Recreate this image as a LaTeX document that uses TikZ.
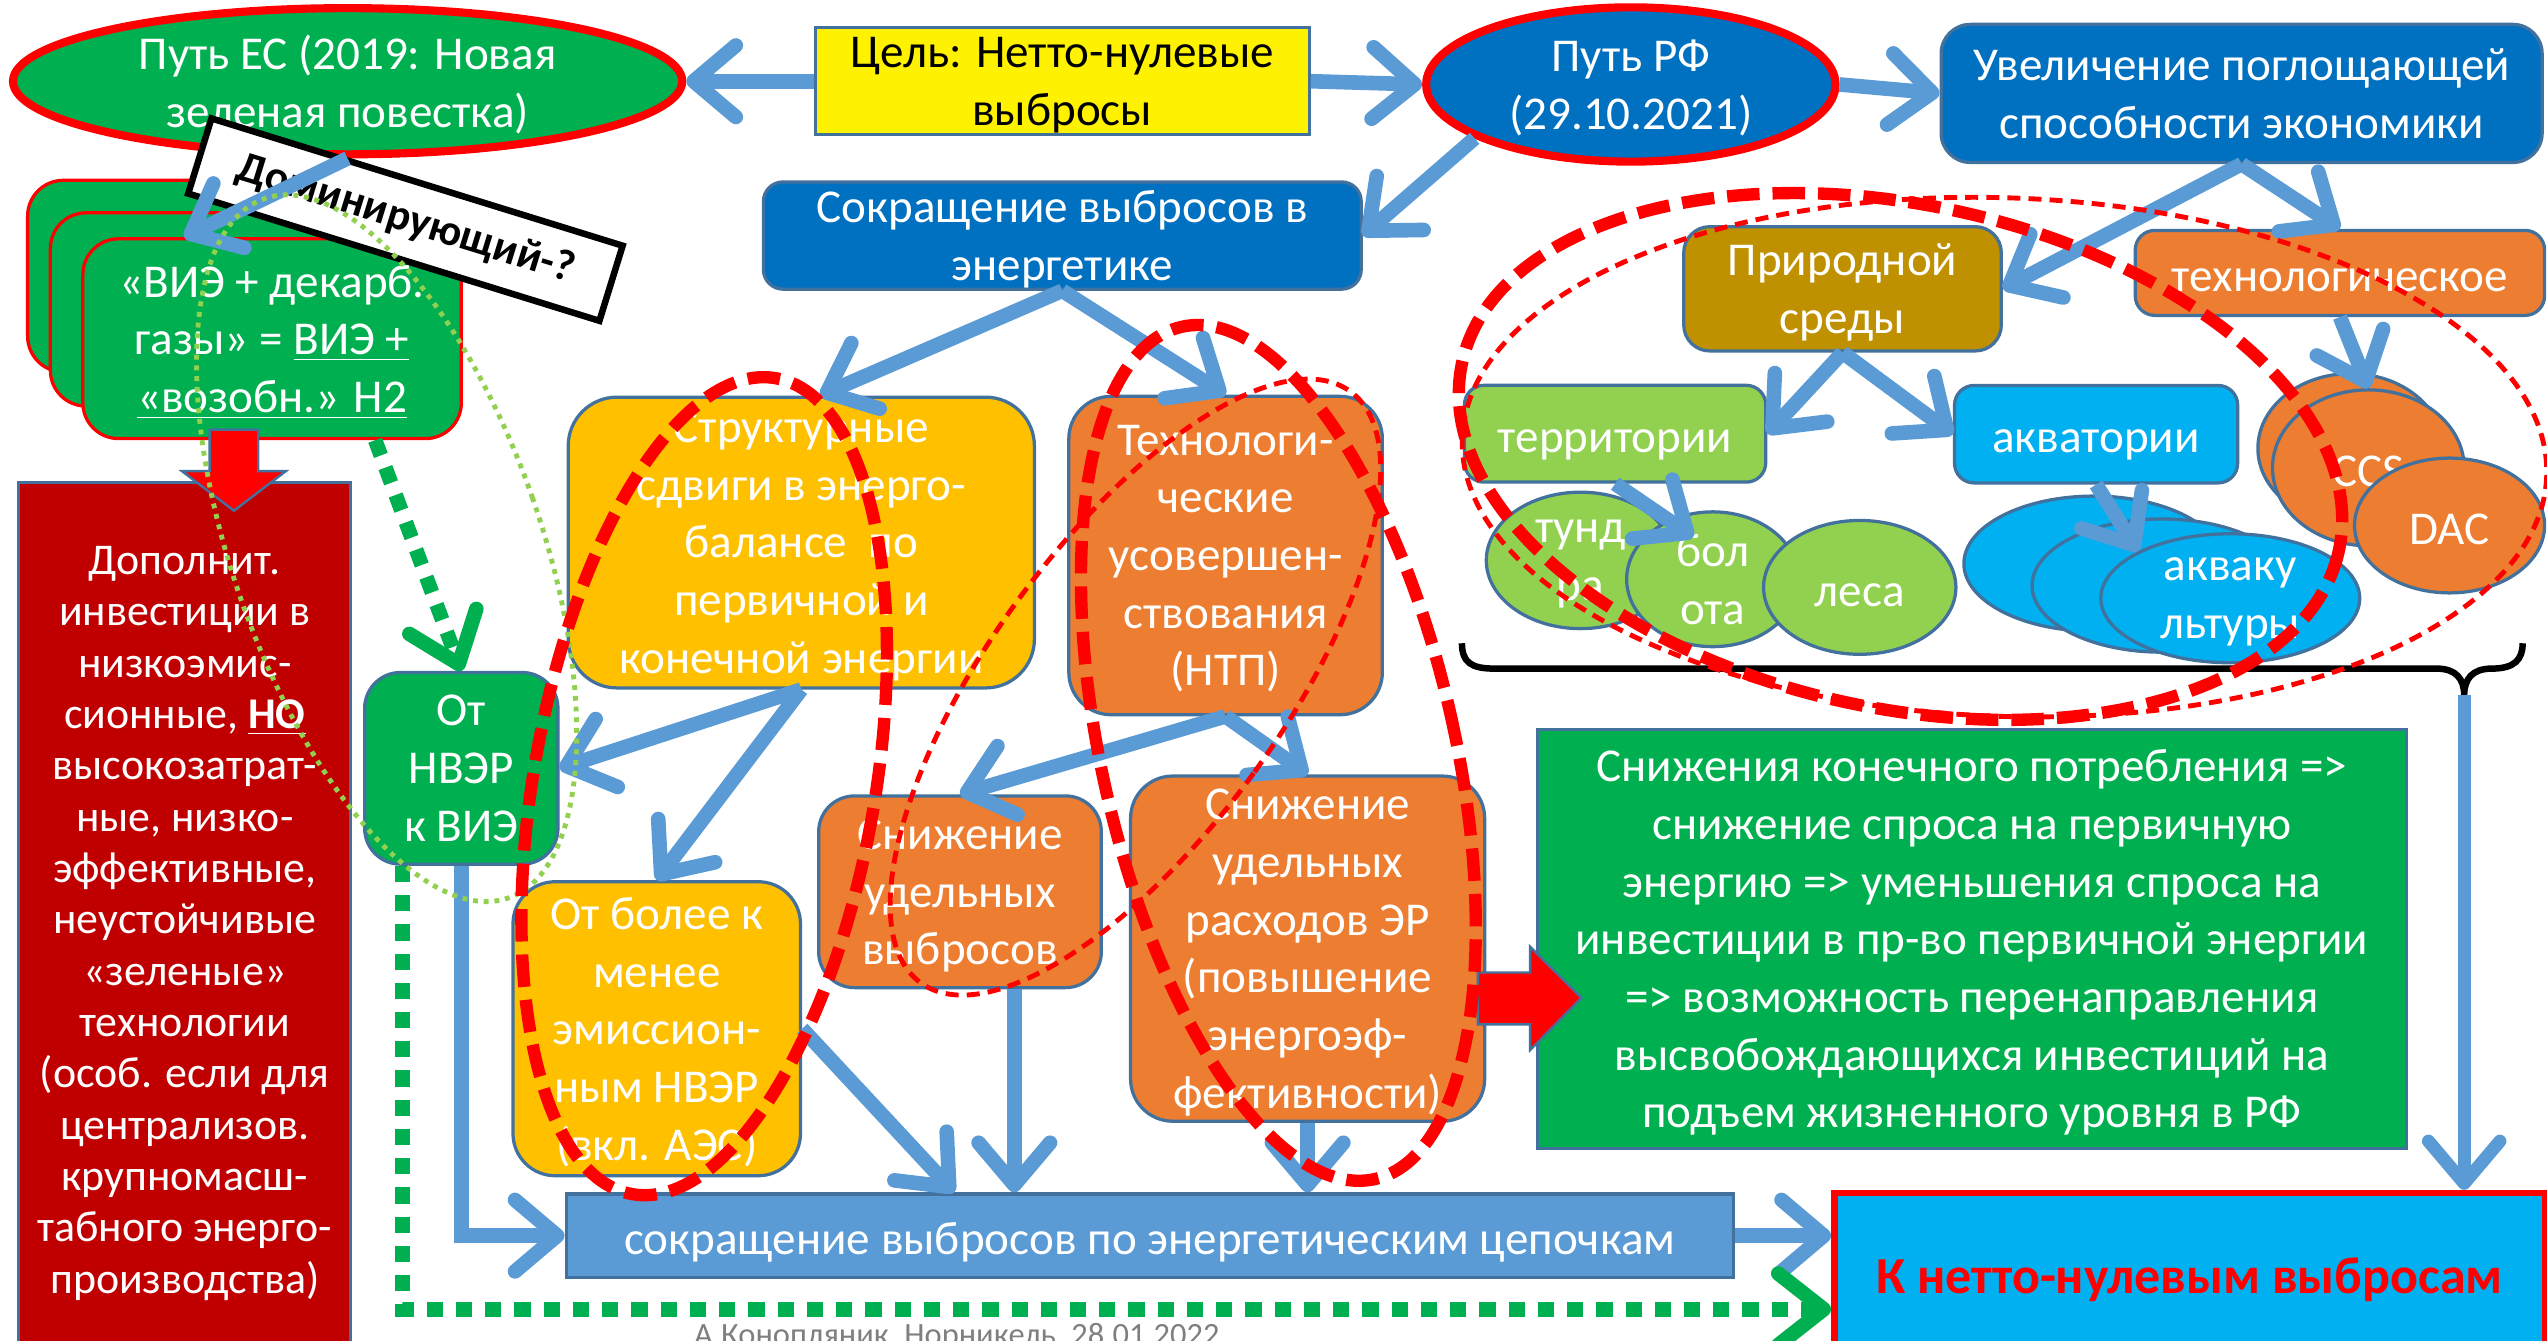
\documentclass[tikz,border=0pt]{standalone}
\usepackage{fontspec}
\setmainfont{Carlito}
\usetikzlibrary{arrows.meta,shapes.geometric,calc}

\definecolor{effgreen}{HTML}{00B050}
\definecolor{navyfill}{HTML}{0070C0}
\definecolor{flowblue}{HTML}{5B9BD5}
\definecolor{goldfill}{HTML}{FFC000}
\definecolor{orangefill}{HTML}{ED7D31}
\definecolor{ochre}{HTML}{BF9000}
\definecolor{lightgreen}{HTML}{92D050}
\definecolor{skyfill}{HTML}{00B0F0}
\definecolor{darkred}{HTML}{C00000}
\definecolor{edgeblue}{HTML}{41719C}
\definecolor{footgray}{HTML}{7F7F7F}

\tikzset{every picture/.style={line width=0.75pt}}

\begin{document}
\begin{tikzpicture}[x=0.5pt,y=0.5pt,yscale=-1,
  txt/.style={font=\fontsize{14.5}{17.75}\selectfont, text=white, align=center, inner sep=0pt, text depth=0pt, execute at begin node={\rule{0pt}{11.5pt}}},
  box/.style={txt, draw=edgeblue, line width=1pt, rounded corners=11pt},
  sqbox/.style={txt, draw=edgeblue, line width=1pt},
  vstack/.style={txt, draw=red, line width=1pt, fill=effgreen, rounded corners=11pt, minimum width=116.5pt},
  blob/.style={ellipse, txt, draw=edgeblue, line width=1pt, inner sep=-6pt},
  flow/.style={draw=flowblue, line width=4.5pt, -{Straight Barb[length=13pt,width=22pt,round]}},
  greenflow/.style={draw=effgreen, line width=4.5pt, dash pattern=on 5pt off 4pt, -{Straight Barb[length=14pt,width=22pt,round]}},
  bigloop/.style={draw=red, line width=3.8pt, dash pattern=on 10pt off 4pt},
  smallloop/.style={draw=red, line width=1.5pt, dash pattern=on 4pt off 2.5pt},
]
\useasboundingbox (0,0) rectangle (1568,825);

%Shape: Ellipse
\node[ellipse, txt, draw=red, line width=2.5pt, fill=effgreen, minimum width=206pt, minimum height=45pt] (eu) at (214,50) {Путь ЕС (2019: Новая\\зеленая повестка)};
% Text Node
\node[sqbox, fill=yellow, text=black, minimum width=152pt, minimum height=33pt] (goal) at (654,50) {Цель: Нетто-нулевые\\выбросы};
%Shape: Ellipse
\node[ellipse, txt, draw=red, line width=2.5pt, fill=navyfill, minimum width=126pt, minimum height=47.5pt] (ru) at (1004,52) {Путь РФ\\(29.10.2021)};
%Rounded Rect
\node[box, fill=navyfill, rounded corners=9pt, minimum width=185pt, minimum height=42.5pt] (absorb) at (1380,57.5) {Увеличение поглощающей\\способности экономики};
%Rounded Rect
\node[box, fill=navyfill, rounded corners=6pt, minimum width=184pt, minimum height=33pt] (energy) at (654,145) {Сокращение выбросов в\\энергетике};

%Rounded Rect stack
\node[vstack, minimum height=59pt] (vieback1) at (133.5,170) {};
\node[vstack, minimum height=59.5pt] (vieback2) at (147.5,190.5) {};
\node[vstack, minimum height=61.5pt] (vie) at (167.5,208.5) {«ВИЭ + декарб.\\газы» = \underline{ВИЭ +}\\\underline{«возобн.» Н2}};

% Text Node
\node[draw=black, line width=2pt, fill=white, rotate=-17.2, font=\fontsize{13.5}{16}\selectfont\bfseries, minimum width=132.5pt, minimum height=24.2pt, inner sep=0pt] (dominant) at (249.6,135.2) {Доминирующий-?};

%Rect
\node[sqbox, fill=darkred, font=\fontsize{13.5}{15.8}\selectfont, text depth={}, minimum width=102.25pt, minimum height=271.5pt] (addinv) at (113.75,568.5) {Дополнит.\\инвестиции в\\низкоэмис-\\сионные, \textbf{\underline{НО}}\\высокозатрат-\\ные, низко-\\эффективные,\\неустойчивые\\«зеленые»\\технологии\\(особ. если для\\централизов.\\крупномасш-\\табного энерго-\\производства)};

%Rounded Rect
\node[box, fill=effgreen, minimum width=59.5pt, minimum height=59pt] (nver) at (284,473) {От\\НВЭР\\к ВИЭ};
\node[box, fill=goldfill, rounded corners=15pt, minimum width=143.5pt, minimum height=89.5pt] (struct) at (493.3,334) {Структурные\\сдвиги в энерго-\\балансе\ \ по\\первичной и\\конечной энергии};
\node[box, fill=orangefill, rounded corners=13pt, minimum width=96.5pt, minimum height=98pt] (tech) at (754.5,342) {Технологи-\\ческие\\усовершен-\\ствования\\(НТП)};
\node[box, fill=goldfill, rounded corners=13pt, minimum width=88.5pt, minimum height=90.5pt] (lessem) at (404.3,633.3) {От более к\\менее\\эмиссион-\\ным НВЭР\\(вкл. АЭС)};
\node[box, fill=orangefill, minimum width=87pt, minimum height=59pt] (specem) at (591,549) {Снижение\\удельных\\выбросов};
\node[box, fill=orangefill, rounded corners=13pt, minimum width=109pt, minimum height=106.25pt] (speccons) at (805,584) {Снижение\\удельных\\расходов ЭР\\(повышение\\энергоэф-\\фективности)};

%Rect
\node[sqbox, fill=flowblue, minimum width=359.25pt, minimum height=25.7pt] (chains) at (707.8,760.7) {сокращение выбросов по энергетическим цепочкам};
\node[sqbox, fill=effgreen, minimum width=267.5pt, minimum height=129pt] (bigbox) at (1213.9,578) {Снижения конечного потребления =>\\снижение спроса на первичную\\энергию => уменьшения спроса на\\инвестиции в пр-во первичной энергии\\=> возможность перенаправления\\высвобождающихся инвестиций на\\подъем жизненного уровня в РФ};
\node[sqbox, draw=red, line width=2pt, fill=skyfill, text=red, font=\fontsize{16}{19}\selectfont\bfseries, minimum width=218.75pt, minimum height=50.5pt] (netzero) at (1348,785) {К нетто-нулевым выбросам};

%Rounded Rect
\node[box, fill=ochre, rounded corners=8pt, minimum width=97.75pt, minimum height=38.25pt] (nature) at (1134.3,177.8) {Природной\\среды};
\node[box, fill=orangefill, rounded corners=6pt, minimum width=126pt, minimum height=26.15pt] (techabs) at (1440.5,168) {технологическое};
\node[box, fill=lightgreen, rounded corners=6pt, minimum width=92.75pt, minimum height=29.8pt] (terr) at (994.3,267) {территории};
\node[box, fill=skyfill, rounded corners=6pt, minimum width=87.15pt, minimum height=30pt] (aqua) at (1290.4,267.3) {акватории};

%Shape: Ellipse
\node[blob, fill=lightgreen, minimum width=58pt, minimum height=42pt] (tundra) at (973,345) {тунд\\ра};
\node[blob, fill=lightgreen, minimum width=53pt, minimum height=41.5pt] (bolota) at (1054.4,356.6) {бол\\ота};
\node[blob, fill=lightgreen, minimum width=59.2pt, minimum height=41.2pt] (lesa) at (1144.9,361.6) {леса};
\node[blob, fill=skyfill, minimum width=80pt, minimum height=41.6pt] (aq1) at (1289,347) {};
\node[blob, fill=skyfill, minimum width=80pt, minimum height=41pt] (aq2) at (1331,360.5) {};
\node[blob, fill=skyfill, minimum width=79.7pt, minimum height=39.7pt] (aq3) at (1373,368.3) {акваку\\льтуры};
\node[blob, fill=orangefill, minimum width=57pt, minimum height=46pt] (ccs1) at (1447,276) {};
\node[blob, fill=orangefill, minimum width=59pt, minimum height=48pt] (ccs2) at (1458,288) {CCS};
\node[blob, fill=orangefill, minimum width=58.5pt, minimum height=41.5pt] (dac) at (1508,323.5) {DAC};

% Text Node
\node[font=\fontsize{10}{12}\selectfont, text=footgray, anchor=base, inner sep=0pt] (footer) at (589,828.6) {А.Конопляник, Норникель, 28.01.2022};

%Shape: Right Arrow
\draw[draw=edgeblue, fill=red] (129,264.5) -- (159,264.5) -- (159,290) -- (176,290) -- (144,314.4) -- (112,290) -- (129,290) -- cycle;
\draw[draw=edgeblue, fill=red] (909.8,598.7) -- (942,598.7) -- (942,582.9) -- (973.6,614.3) -- (942,646.4) -- (942,630.6) -- (909.8,630.6) -- cycle;

%Curve Lines
\draw[line width=2pt] (900,396) .. controls (900,408) and (906,411.6) .. (920,411.6) -- (1500,411.6) .. controls (1512,411.6) and (1517,418) .. (1517,428) .. controls (1517,418) and (1522,411.6) .. (1534,411.6) .. controls (1548,411.6) and (1553,406) .. (1553,396);
\coordinate (bracetip) at (1517,428);

%Straight Lines
\draw[flow] (goal.west) -- (eu.east);
\draw[flow] (goal.east) -- (ru.west);
\draw[flow] (ru.east) -- (absorb.west);
\draw[flow] (ru.199) -- (energy.east);
\draw[flow] (eu.south) -- ($(vie.north west)!0.27!(vie.north east)$);
\draw[flow] (energy.south) -- ($(struct.north west)!0.54!(struct.north east)$);
\draw[flow] (energy.south) -- (tech.north);
\draw[flow] (absorb.south) -- (nature.east);
\draw[flow] (absorb.south) -- (techabs.north);
\draw[flow] (techabs.south) -- (ccs2.north);
\draw[flow] (nature.south) -- (terr.east);
\draw[flow] (nature.south) -- (aqua.west);
\draw[flow] (terr.south) -- ($(bolota.center)+(-12,-26)$);
\draw[flow] (aqua.south) -- (aq3.153);
\draw[flow] (struct.south) -- (nver.east);
\draw[flow] (struct.south) -- (lessem.north);
\draw[flow] (tech.south) -- (specem.north);
\draw[flow] (tech.south) -- (speccons.north);
\draw[flow] (lessem.east) -- ($(chains.north west)!0.333!(chains.north east)$);
\coordinate (specout) at ($(specem.south west)!0.69!(specem.south east)$);
\draw[flow] (specout) -- (specout |- chains.north);
\draw[flow] (speccons.south) -- (speccons.south |- chains.north);
\draw[flow] (nver.south) |- (chains.west);
\draw[flow] (chains.east) -- (chains.east -| netzero.west);
\draw[flow, line width=4pt] (bracetip) -- (bracetip |- netzero.north);

%Dotted Lines
\draw[greenflow] ($(vie.south west)!0.77!(vie.south east)$) -- (nver.north);
\draw[greenflow] ($(nver.south west)!0.2!(nver.south east)$) |- ($(netzero.north west)!0.7!(netzero.south west)$);

%Shape: Ellipse
\draw[draw=lightgreen, line width=1.5pt, dash pattern=on 1.5pt off 1.8pt, rotate around={-19.25:(238,337.5)}] (238,337.5) ellipse (95 and 228);
\draw[bigloop, rotate around={10:(433.5,484)}] (433.5,484) ellipse (105 and 255);
\draw[bigloop, rotate around={-12.8:(787,463.5)}] (787,463.5) ellipse (108.6 and 269);
\draw[smallloop, rotate around={36:(699,423)}] (699,423) ellipse (90 and 225);
\draw[bigloop, rotate around={12:(1170,281)}] (1170,281) ellipse (276 and 155);
\draw[smallloop, rotate around={2:(1234,281.4)}] (1234,281.4) ellipse (334 and 159.6);

\end{tikzpicture}
\end{document}
